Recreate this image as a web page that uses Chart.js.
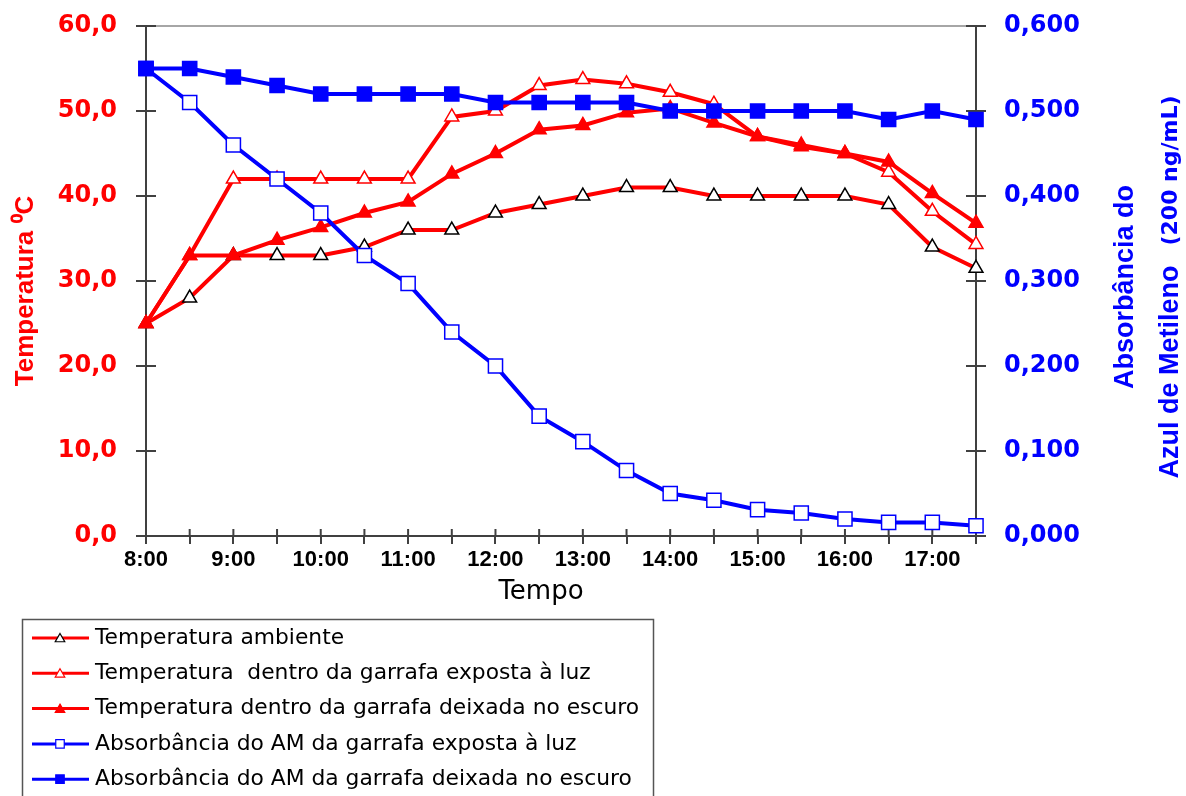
<!DOCTYPE html>
<html lang="pt">
<head>
  <meta charset="UTF-8">
  <title>Temperatura e absorbância do azul de metileno</title>
  <script src="https://cdn.jsdelivr.net/npm/chart.js"></script>
  <style>
    html, body { margin: 0; padding: 0; background: #fff; }
    #wrap { width: 1186px; height: 796px; overflow: hidden; }
  </style>
</head>
<body>
  <div id="wrap">
    <canvas id="grafico" width="1186" height="796"></canvas>
  </div>

  <script>
    // Leituras de meia em meia hora
    const horarios = ['8:00', '8:30', '9:00', '9:30', '10:00', '10:30', '11:00', '11:30', '12:00', '12:30',
                      '13:00', '13:30', '14:00', '14:30', '15:00', '15:30', '16:00', '16:30', '17:00', '17:30'];

    // Temperaturas (graus C)
    const tempAmbiente = [25, 28, 33, 33, 33, 34, 36, 36, 38, 39, 40, 41, 41, 40, 40, 40, 40, 39, 34, 31.5];
    const tempLuz      = [25, 33, 42, 42, 42, 42, 42, 49.3, 50, 53, 53.7, 53.2, 52.2, 50.8, 47, 46, 45, 42.8, 38.2, 34.3];
    const tempEscuro   = [25, 33, 33, 34.8, 36.3, 38, 39.3, 42.6, 45, 47.8, 48.3, 49.8, 50.3, 48.6, 47, 45.8, 45, 44, 40.3, 36.8];

    // Absorbância do azul de metileno (200 ng/mL)
    const absLuz    = [0.55, 0.51, 0.46, 0.42, 0.38, 0.33, 0.297, 0.24, 0.20, 0.141, 0.111, 0.077, 0.05, 0.042, 0.031, 0.027, 0.02, 0.016, 0.016, 0.012];
    const absEscuro = [0.55, 0.55, 0.54, 0.53, 0.52, 0.52, 0.52, 0.52, 0.51, 0.51, 0.51, 0.51, 0.50, 0.50, 0.50, 0.50, 0.50, 0.49, 0.50, 0.49];

    // Faixas dos eixos
    const tempEixo = { min: 0, max: 60, passo: 10 };
    const absEixo  = { min: 0, max: 0.6, passo: 0.1 };

    const VERMELHO = '#ff0000';
    const AZUL = '#0000ff';
    const EIXO = '#404040';

    // Tracinhos que cruzam os eixos (parte interna; a externa vem do grid)
    const marcasCruzadas = {
      id: 'marcasCruzadas',
      beforeDatasetsDraw(chart) {
        const { ctx, chartArea: a, scales } = chart;
        ctx.save();
        // borda superior da área do gráfico
        ctx.strokeStyle = '#a6a6a6';
        ctx.lineWidth = 2;
        ctx.beginPath();
        ctx.moveTo(a.left, a.top);
        ctx.lineTo(a.right, a.top);
        ctx.stroke();

        ctx.strokeStyle = EIXO;
        ctx.lineWidth = 2;
        ctx.beginPath();
        scales.y.ticks.forEach((t, i) => {
          const y = scales.y.getPixelForTick(i);
          ctx.moveTo(a.left, y);
          ctx.lineTo(a.left + 10, y);
        });
        scales.y1.ticks.forEach((t, i) => {
          const y = scales.y1.getPixelForTick(i);
          ctx.moveTo(a.right - 10, y);
          ctx.lineTo(a.right, y);
        });
        scales.x.ticks.forEach((t, i) => {
          const x = scales.x.getPixelForTick(i);
          ctx.moveTo(x, a.bottom - 7);
          ctx.lineTo(x, a.bottom);
        });
        ctx.stroke();
        ctx.restore();
      }
    };

    // Títulos dos eixos (o secundário tem duas linhas com tamanhos diferentes)
    const titulos = {
      id: 'titulos',
      afterDraw(chart) {
        const { ctx } = chart;
        ctx.save();

        ctx.fillStyle = '#000';
        ctx.font = '26px "DejaVu Sans", sans-serif';
        ctx.textAlign = 'center';
        ctx.textBaseline = 'middle';
        ctx.fillText('Tempo', 541, 592);

        ctx.textBaseline = 'alphabetic';

        ctx.save();
        ctx.fillStyle = VERMELHO;
        ctx.translate(33, 291);
        ctx.rotate(-Math.PI / 2);
        ctx.font = 'bold 26px "Liberation Sans", Arial, sans-serif';
        ctx.textAlign = 'center';
        ctx.fillText('Temperatura ⁰C', 0, 0);
        ctx.restore();

        const cy = 287;
        ctx.fillStyle = AZUL;

        ctx.save();
        ctx.translate(1133, cy);
        ctx.rotate(-Math.PI / 2);
        ctx.font = 'bold 27px "Liberation Sans", Arial, sans-serif';
        ctx.textAlign = 'center';
        ctx.fillText('Absorbância do', 0, 0);
        ctx.restore();

        ctx.save();
        ctx.translate(1178, cy);
        ctx.rotate(-Math.PI / 2);
        const parte1 = 'Azul de Metileno';
        const parte2 = '(200 ng/mL)';
        const f1 = 'bold 27px "Liberation Sans", Arial, sans-serif';
        const f2 = 'bold 22px "DejaVu Sans", sans-serif';
        const vao = 20;
        ctx.font = f1;
        const w1 = ctx.measureText(parte1).width;
        ctx.font = f2;
        const w2 = ctx.measureText(parte2).width;
        const x0 = -(w1 + vao + w2) / 2;
        ctx.textAlign = 'left';
        ctx.font = f1;
        ctx.fillText(parte1, x0, 0);
        ctx.font = f2;
        ctx.fillText(parte2, x0 + w1 + vao, -1);
        ctx.restore();

        ctx.restore();
      }
    };

    // Legenda em caixa, abaixo do gráfico
    const legendaCaixa = {
      id: 'legendaCaixa',
      afterDraw(chart) {
        const { ctx } = chart;
        const helpers = Chart.helpers;
        ctx.save();
        ctx.strokeStyle = '#555555';
        ctx.lineWidth = 1.5;
        ctx.strokeRect(22.5, 619.5, 631, 220);

        chart.data.datasets.forEach((ds, i) => {
          const y = 638 + i * 35.3;
          ctx.strokeStyle = ds.borderColor;
          ctx.lineWidth = 3;
          ctx.beginPath();
          ctx.moveTo(32, y);
          ctx.lineTo(89, y);
          ctx.stroke();

          ctx.fillStyle = ds.pointBackgroundColor;
          ctx.strokeStyle = ds.pointBorderColor;
          ctx.lineWidth = 1.2;
          helpers.drawPoint(ctx, {
            pointStyle: ds.pointStyle,
            radius: ds.pointStyle === 'rect' ? 6 : 5.5,
            rotation: 0,
            borderWidth: 1.2
          }, 60, y + (ds.pointStyle === 'rect' ? 0 : 1));

          ctx.fillStyle = '#000';
          ctx.font = '21.8px "DejaVu Sans", sans-serif';
          ctx.textAlign = 'left';
          ctx.textBaseline = 'middle';
          ctx.fillText(ds.label, 95, y);
        });
        ctx.restore();
      }
    };

    const serie = (label, data, eixo, cor, estilo, preenchimento, bordaPonto, ordem) => ({
      label: label,
      data: data,
      yAxisID: eixo,
      borderColor: cor,
      borderWidth: 4,
      pointStyle: estilo,
      pointRadius: estilo === 'rect' ? 10 : 8,
      pointBackgroundColor: preenchimento,
      pointBorderColor: bordaPonto,
      pointBorderWidth: 1.5,
      tension: 0,
      fill: false,
      order: ordem
    });

    // Eixos verticais: largura fixa e sem folga extra para os rótulos das pontas
    const ajustaVertical = (largura) => (s) => {
      s.width = largura;
      s.paddingTop = 0;
      s.paddingBottom = 0;
    };

    new Chart(document.getElementById('grafico'), {
      type: 'line',
      data: {
        labels: horarios,
        datasets: [
          serie('Temperatura ambiente', tempAmbiente, 'y', VERMELHO, 'triangle', '#ffffff', '#000000', 5),
          serie('Temperatura  dentro da garrafa exposta à luz', tempLuz, 'y', VERMELHO, 'triangle', '#ffffff', VERMELHO, 4),
          serie('Temperatura dentro da garrafa deixada no escuro', tempEscuro, 'y', VERMELHO, 'triangle', VERMELHO, VERMELHO, 3),
          serie('Absorbância do AM da garrafa exposta à luz', absLuz, 'y1', AZUL, 'rect', '#ffffff', AZUL, 2),
          serie('Absorbância do AM da garrafa deixada no escuro', absEscuro, 'y1', AZUL, 'rect', AZUL, AZUL, 1)
        ]
      },
      options: {
        responsive: false,
        animation: false,
        devicePixelRatio: 1,
        layout: { padding: { top: 26, bottom: 190, left: 0, right: 0 } },
        plugins: {
          legend: { display: false },
          tooltip: { enabled: false }
        },
        scales: {
          x: {
            offset: false,
            grid: { drawOnChartArea: false, drawTicks: true, tickLength: 8, color: EIXO, lineWidth: 2 },
            border: { display: true, color: EIXO, width: 2 },
            ticks: {
              autoSkip: false,
              maxRotation: 0,
              padding: 3,
              color: '#000',
              font: { family: '"Liberation Sans", Arial, sans-serif', size: 22, weight: 'bold' },
              callback: function (v, i) {
                const h = horarios[i];
                return h.endsWith(':00') ? h : '';
              }
            },
            afterFit: (s) => { s.height = 70; s.paddingLeft = 0; s.paddingRight = 0; }
          },
          y: {
            position: 'left',
            min: tempEixo.min,
            max: tempEixo.max,
            grid: { drawOnChartArea: false, drawTicks: true, tickLength: 10, color: EIXO, lineWidth: 2 },
            border: { display: true, color: EIXO, width: 2 },
            ticks: {
              stepSize: tempEixo.passo,
              padding: 19,
              color: VERMELHO,
              font: { family: '"DejaVu Sans", sans-serif', size: 24, weight: 'bold' },
              callback: (v) => v.toFixed(1).replace('.', ',')
            },
            afterFit: ajustaVertical(146)
          },
          y1: {
            position: 'right',
            min: absEixo.min,
            max: absEixo.max,
            grid: { drawOnChartArea: false, drawTicks: true, tickLength: 10, color: EIXO, lineWidth: 2 },
            border: { display: true, color: EIXO, width: 2 },
            ticks: {
              stepSize: absEixo.passo,
              padding: 18,
              color: AZUL,
              font: { family: '"DejaVu Sans", sans-serif', size: 24, weight: 'bold' },
              callback: (v) => v.toFixed(3).replace('.', ',')
            },
            afterFit: ajustaVertical(210)
          }
        }
      },
      plugins: [marcasCruzadas, titulos, legendaCaixa]
    });
  </script>
</body>
</html>
